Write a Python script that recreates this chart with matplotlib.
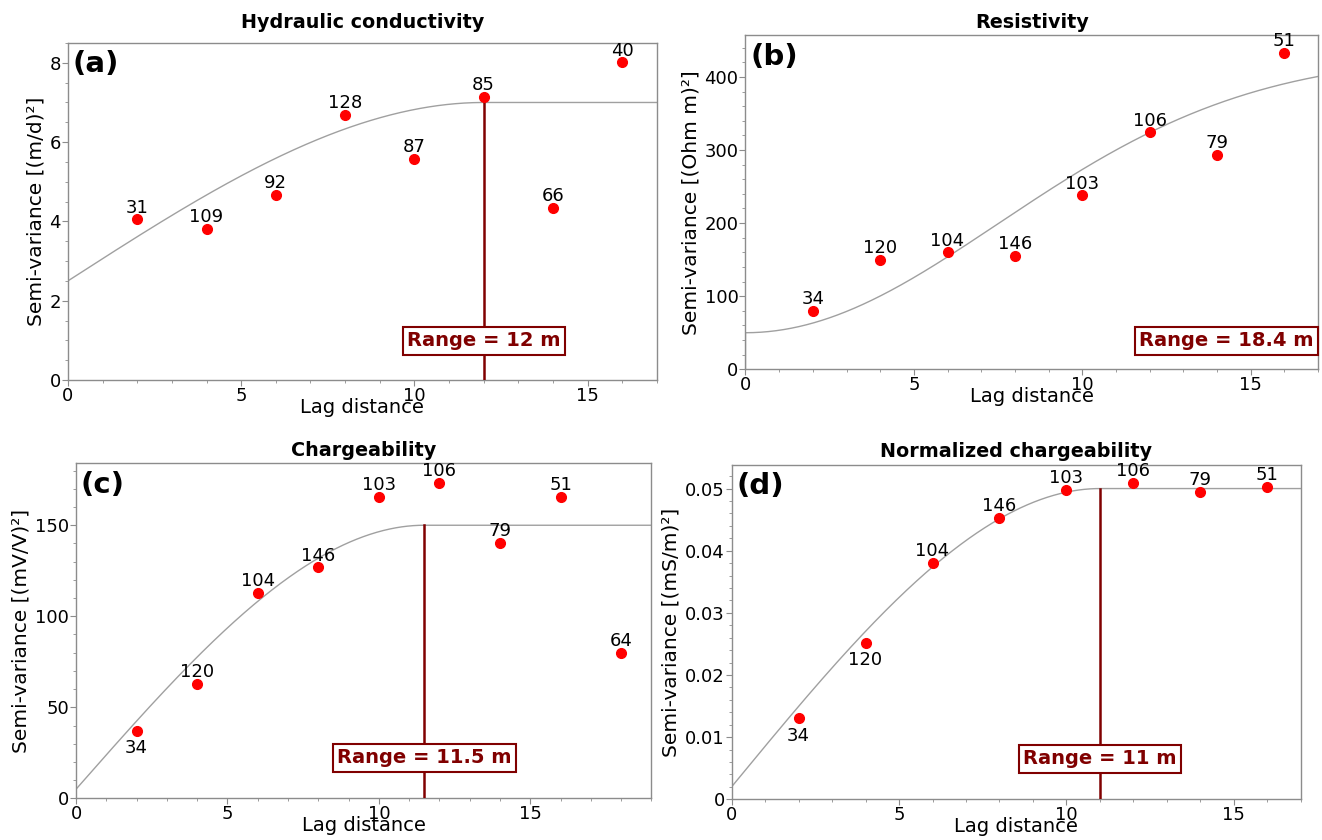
import numpy as np
import matplotlib
matplotlib.use("Agg")
import matplotlib.pyplot as plt
from matplotlib.ticker import MultipleLocator, FuncFormatter

# lag centres and experimental semivariances, with number of pairs per lag
lag_ab = [2, 4, 6, 8, 10, 12, 14, 16]
lag_c = [2, 4, 6, 8, 10, 12, 14, 16, 18]

hk_gamma = [4.05, 3.81, 4.66, 6.69, 5.57, 7.14, 4.35, 8.01]
hk_pairs = [31, 109, 92, 128, 87, 85, 66, 40]

res_gamma = [80, 150, 160, 155, 238, 324, 293, 433]
res_pairs = [34, 120, 104, 146, 103, 106, 79, 51]

chg_gamma = [37.2, 63, 112.8, 126.9, 165.4, 173.4, 140.3, 165.6, 79.9]
chg_pairs = [34, 120, 104, 146, 103, 106, 79, 51, 64]

nchg_gamma = [0.0130, 0.0252, 0.0381, 0.0453, 0.0498, 0.0509, 0.0495, 0.0503]
nchg_pairs = [34, 120, 104, 146, 103, 106, 79, 51]

# fitted models: (type, nugget, sill, range)
hk_model = ("sph", 2.5, 7.0, 12.0)
res_model = ("gau", 50.0, 430.0, 18.4)
chg_model = ("sph", 5.0, 150.0, 11.5)
nchg_model = ("sph", 0.002, 0.05, 11.0)

RED_DARK = "#800000"
SPINE = "#8c8c8c"


def model_curve(model, h):
    kind, c0, sill, a = model
    c = sill - c0
    if kind == "sph":
        r = np.minimum(h / a, 1.0)
        g = c0 + c * (1.5 * r - 0.5 * r ** 3)
    else:
        g = c0 + c * (1 - np.exp(-3 * h ** 2 / a ** 2))
    g[h == 0] = 0
    return g


def panel(rect, title, letter, lags, gamma, pairs, model, xmax, ymax,
          ymajor, yminor, ylabel, box_y, title_pad, below=(), box_right=False):
    ax = fig.add_axes(rect)
    h = np.concatenate([[0.0], np.linspace(1e-4, xmax, 600)])
    ax.plot(h, model_curve(model, h), color="#a0a0a0", lw=1.0, zorder=2)

    a = model[3]
    if a < xmax:
        ax.plot([a, a], [0, model[2]], color=RED_DARK, lw=1.8, zorder=3)
    range_txt = f"Range = {a:g} m"
    bbox = dict(boxstyle="square,pad=0.22", fc="white", ec=RED_DARK, lw=1.5)
    if box_right:
        ax.text(xmax - 0.12, box_y, range_txt, ha="right", va="center",
                fontsize=14, fontweight="bold", color=RED_DARK, bbox=bbox, zorder=5)
    else:
        ax.text(a, box_y, range_txt, ha="center", va="center",
                fontsize=14, fontweight="bold", color=RED_DARK, bbox=bbox, zorder=5)

    ax.plot(lags, gamma, "o", color="red", ms=7, mec="red", zorder=4)
    for x, y, n in zip(lags, gamma, pairs):
        if n in below and x <= 4:
            ax.annotate(str(n), (x, y), xytext=(0, -6), textcoords="offset points",
                        ha="center", va="top", fontsize=13)
        else:
            ax.annotate(str(n), (x, y), xytext=(0, 2), textcoords="offset points",
                        ha="center", va="bottom", fontsize=13)

    ax.set_xlim(0, xmax)
    ax.set_ylim(0, ymax)
    ax.xaxis.set_major_locator(MultipleLocator(5))
    ax.xaxis.set_minor_locator(MultipleLocator(1))
    ax.yaxis.set_major_locator(MultipleLocator(ymajor))
    ax.yaxis.set_minor_locator(MultipleLocator(yminor))
    ax.yaxis.set_major_formatter(FuncFormatter(lambda v, p: f"{v:g}"))
    ax.tick_params(which="both", direction="out", color=SPINE, labelsize=13, pad=1)
    ax.tick_params(which="major", length=4)
    ax.tick_params(which="minor", length=2.5)
    for s in ax.spines.values():
        s.set_color(SPINE)
        s.set_linewidth(1.0)

    ax.set_title(title, fontsize=13.8, fontweight="bold", pad=title_pad)
    ax.set_xlabel("Lag distance", fontsize=14, labelpad=-5)
    ax.set_ylabel(ylabel, fontsize=14.5, labelpad=3)
    ax.text(0.008, 0.978, letter, transform=ax.transAxes, ha="left", va="top",
            fontsize=21, fontweight="bold")
    return ax


fig = plt.figure(figsize=(13.22, 8.4), dpi=100)

panel([0.0514, 0.5476, 0.4455, 0.4012], "Hydraulic conductivity", "(a)",
      lag_ab, hk_gamma, hk_pairs, hk_model, 17, 8.5, 2, 0.5,
      "Semi-variance [(m/d)²]", 0.99, 10.5)
panel([0.5639, 0.5604, 0.4331, 0.3976], "Resistivity", "(b)",
      lag_ab, res_gamma, res_pairs, res_model, 17, 457, 100, 20,
      "Semi-variance [(Ohm m)²]", 39, 5, box_right=True)
panel([0.0575, 0.0496, 0.4352, 0.3988], "Chargeability", "(c)",
      lag_c, chg_gamma, chg_pairs, chg_model, 19, 184, 50, 10,
      "Semi-variance [(mV/V)²]", 22.3, 5, below=(34,))
panel([0.5534, 0.0485, 0.4306, 0.3980], "Normalized chargeability", "(d)",
      lag_ab, nchg_gamma, nchg_pairs, nchg_model, 17, 0.0538, 0.01, 0.002,
      "Semi-variance [(mS/m)²]", 0.0065, 6, below=(34, 120))

fig.savefig("out.png", dpi=100)
